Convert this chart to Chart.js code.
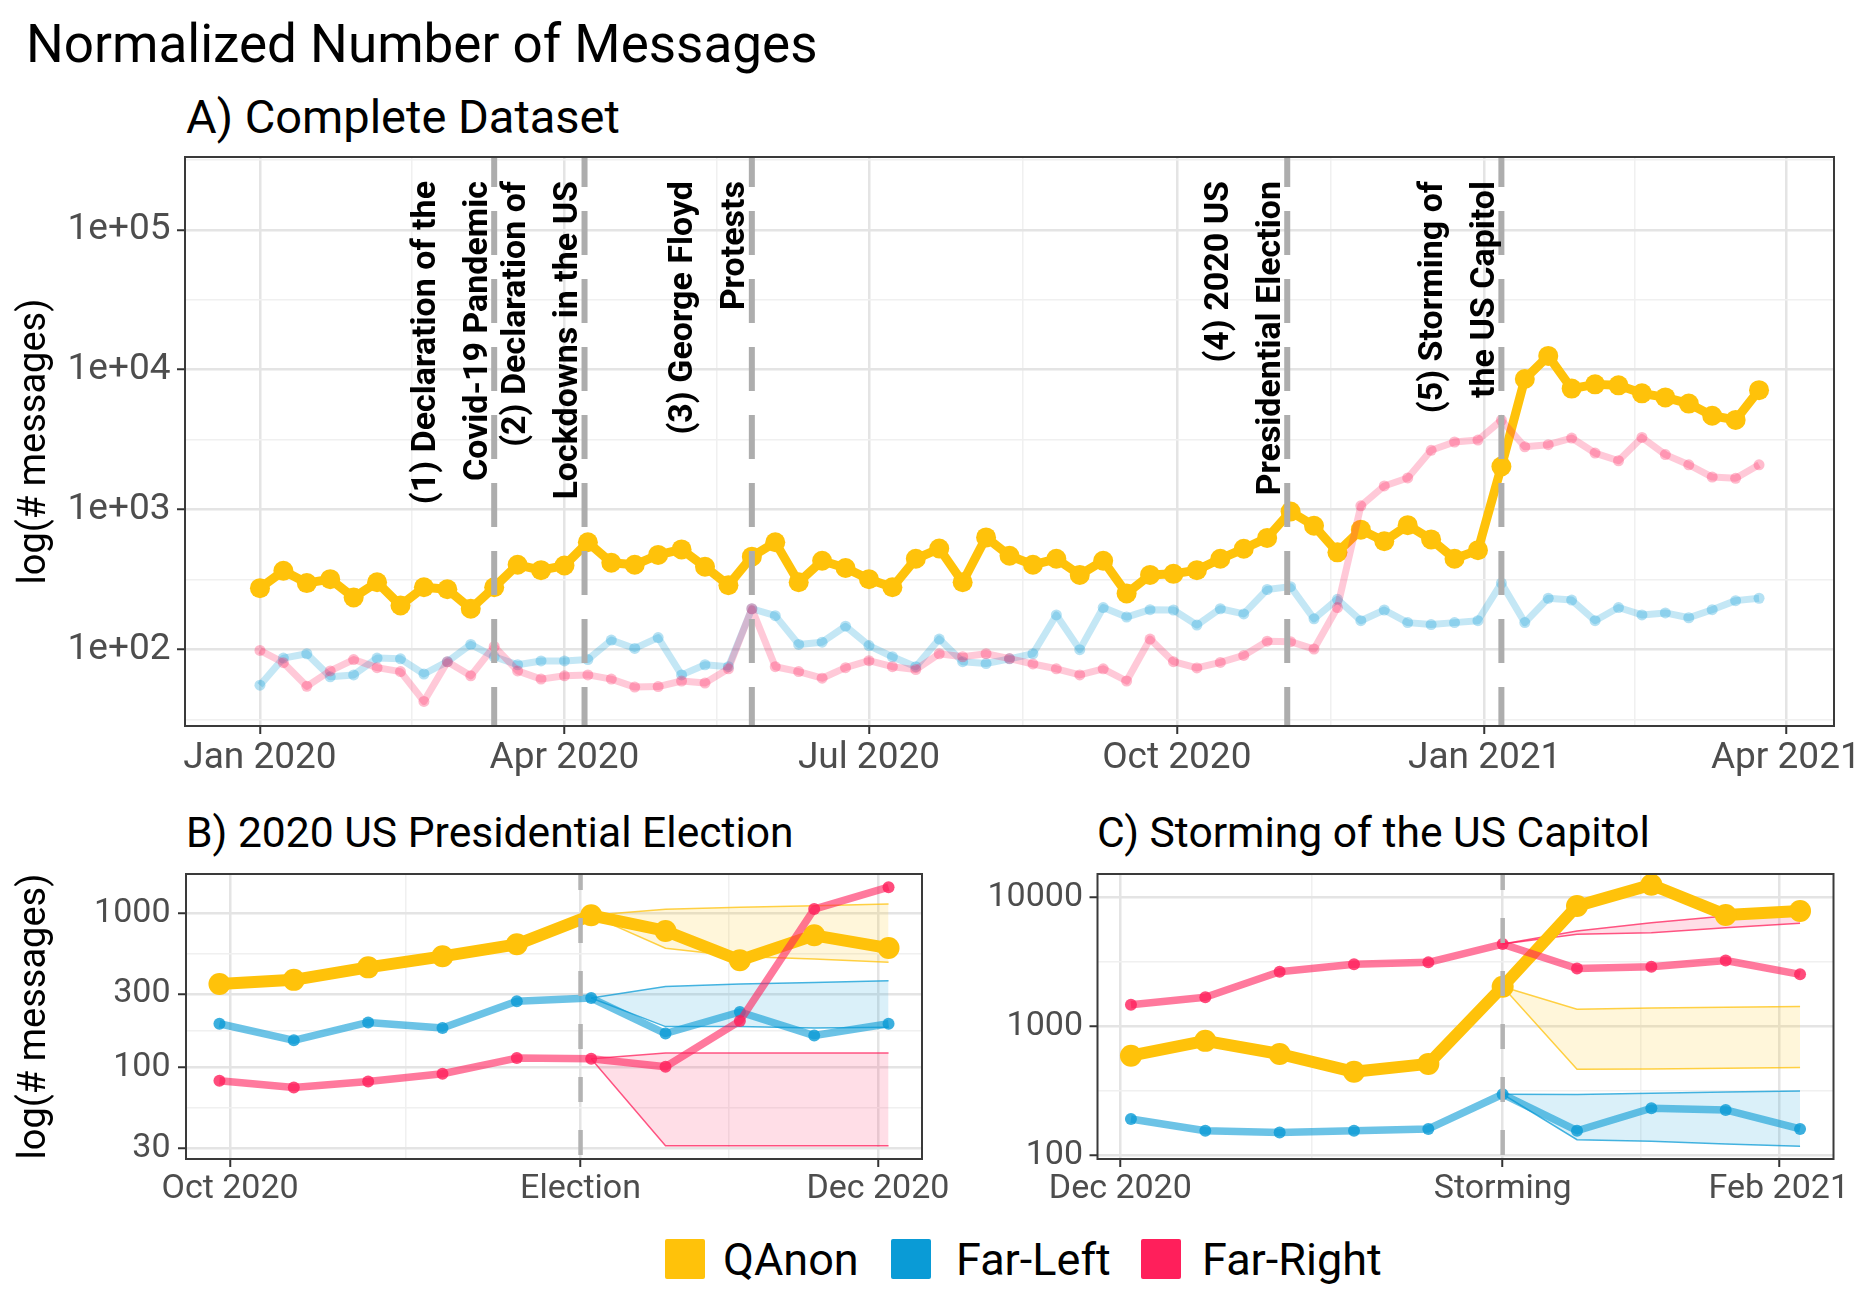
<!DOCTYPE html>
<html><head><meta charset="utf-8">
<script src="https://cdn.jsdelivr.net/npm/chart.js@4.4.1/dist/chart.umd.min.js"></script>
<style>
html,body{margin:0;padding:0;background:#fff;}
body{width:1870px;height:1289px;position:relative;overflow:hidden;font-family:Roboto,'Liberation Sans',sans-serif;}
.t{position:absolute;white-space:nowrap;color:#000;line-height:1;}
canvas{position:absolute;}
.sw{position:absolute;width:40px;height:40px;border-radius:2px;}
</style></head><body>
<div class="t" style="left:26px;top:18px;font-size:53px;">Normalized Number of Messages</div>
<div class="t" style="left:186px;top:93px;font-size:47px;">A) Complete Dataset</div>
<div class="t" style="left:186px;top:811px;font-size:42.6px;">B) 2020 US Presidential Election</div>
<div class="t" style="left:1097px;top:811px;font-size:42.6px;">C) Storming of the US Capitol</div>
<canvas id="cA" width="1870" height="660" style="left:0;top:140px;width:1870px;height:660px;"></canvas>
<canvas id="cB" width="960" height="420" style="left:0;top:800px;width:960px;height:420px;"></canvas>
<canvas id="cC" width="910" height="420" style="left:960px;top:800px;width:910px;height:420px;"></canvas>
<div class="sw" style="left:665px;top:1239px;background:#FFC20A;"></div>
<div class="t" style="left:723px;top:1237px;font-size:45px;">QAnon</div>
<div class="sw" style="left:891px;top:1239px;background:#0A9BD6;"></div>
<div class="t" style="left:956px;top:1237px;font-size:45px;">Far-Left</div>
<div class="sw" style="left:1141px;top:1239px;background:#FF1F5B;"></div>
<div class="t" style="left:1202px;top:1237px;font-size:45px;">Far-Right</div>
<script>
// ---------------- DATA ----------------
const weekDates = ['2020-01-01','2020-01-08','2020-01-15','2020-01-22','2020-01-29','2020-02-05','2020-02-12','2020-02-19','2020-02-26',
 '2020-03-04','2020-03-11','2020-03-18','2020-03-25','2020-04-01','2020-04-08','2020-04-15','2020-04-22','2020-04-29',
 '2020-05-06','2020-05-13','2020-05-20','2020-05-27','2020-06-03','2020-06-10','2020-06-17','2020-06-24',
 '2020-07-01','2020-07-08','2020-07-15','2020-07-22','2020-07-29','2020-08-05','2020-08-12','2020-08-19','2020-08-26',
 '2020-09-02','2020-09-09','2020-09-16','2020-09-23','2020-09-30','2020-10-07','2020-10-14','2020-10-21','2020-10-28',
 '2020-11-04','2020-11-11','2020-11-18','2020-11-25','2020-12-02','2020-12-09','2020-12-16','2020-12-23','2020-12-30',
 '2021-01-06','2021-01-13','2021-01-20','2021-01-27','2021-02-03','2021-02-10','2021-02-17','2021-02-24',
 '2021-03-03','2021-03-10','2021-03-17','2021-03-24'];
const qanon = [275,366,299,319,236,303,207,279,270,196,279,404,370,399,585,418,404,475,520,391,289,462,585,303,432,383,319,279,446,528,303,634,469,404,446,342,432,252,342,
 348,370,446,526,629,970,768,496,720,595,775,613,446,514,2037,8590,12550,7330,7860,7740,6780,6340,5730,4690,4380,7150];
const farLeft = [55.7,87,93.5,64,66,87,86,67,82,109,89,78,83,83,85,117,102,122,66,78,75.5,196,175,109,113,147,107,89,75.5,119,82,79.6,86,93.5,177,100,200,171,193,
 192,150,196,180,269,282,166,229,161,192,156,151,156,161,299,156,233,226,161,200,177,183,169,193,224,233];
const farRight = [98.7,80.7,54.7,70.5,85,74.4,69.7,42.7,81.8,65,105.5,70.5,61.6,65,66,61.6,54,54.5,59.7,57.7,73,196,75.5,69.7,62.5,74.4,83.4,75.5,72,93.5,89,93.5,86.3,79,73,66,73,59.7,119,
 82,74,81,91,115,114,101,200,1065,1478,1685,2657,3045,3143,4356,2815,2912,3250,2539,2237,3282,2475,2094,1710,1676,2094];

const eventDates = ['2020-03-11','2020-04-07','2020-05-27','2020-11-03','2021-01-06'];
const eventLabels = [
  ['(1) Declaration of the','Covid-19 Pandemic'],
  ['(2) Declaration of','Lockdowns in the US'],
  ['(3) George Floyd','Protests'],
  ['(4) 2020 US','Presidential Election'],
  ['(5) Storming of','the US Capitol']
];
const xTickDatesA = ['2020-01-01','2020-04-01','2020-07-01','2020-10-01','2021-01-01','2021-04-01'];
const xTickLabelsA = ['Jan 2020','Apr 2020','Jul 2020','Oct 2020','Jan 2021','Apr 2021'];
const yTickValuesA = [100,1000,10000,100000];
const yTickLabelsA = ['1e+02','1e+03','1e+04','1e+05'];

// Panel B
const datesB = ['2020-09-30','2020-10-07','2020-10-14','2020-10-21','2020-10-28','2020-11-04','2020-11-11','2020-11-18','2020-11-25','2020-12-02'];
const qanonB = [348,370,446,526,629,970,768,496,720,595];
const farLeftB = [192,150,196,180,269,282,166,229,161,192];
const farRightB = [82,74,81,91,115,114,101,200,1065,1478];
const bandDatesB = ['2020-11-04','2020-11-11','2020-11-18','2020-11-25','2020-12-02'];
const qanonHiB = [970,1062,1094,1120,1148];
const qanonLoB = [970,593,524,505,482];
const farLeftHiB = [282,335,348,356,365];
const farLeftLoB = [282,184,184,180,182];
const farRightHiB = [114,124,124,124,124];
const farRightLoB = [114,31,31,31,31];
const eventDateB = '2020-11-03';
const xTickDatesB = ['2020-10-01','2020-11-03','2020-12-01'];
const xTickLabelsB = ['Oct 2020','Election','Dec 2020'];
const yTickValuesB = [30,100,300,1000];
const yTickLabelsB = ['30','100','300','1000'];

// Panel C
const datesC = ['2020-12-02','2020-12-09','2020-12-16','2020-12-23','2020-12-30','2021-01-06','2021-01-13','2021-01-20','2021-01-27','2021-02-03'];
const qanonC = [595,775,613,446,514,2037,8590,12550,7330,7860];
const farLeftC = [192,156,151,156,161,299,156,233,226,161];
const farRightC = [1478,1685,2657,3045,3143,4356,2815,2912,3250,2539];
const bandDatesC = ['2021-01-06','2021-01-13','2021-01-20','2021-01-27','2021-02-03'];
const qanonHiC = [2037,1365,1390,1410,1432];
const qanonLoC = [2037,466,470,475,482];
const farLeftHiC = [299,298,305,311,317];
const farLeftLoC = [299,133,129,123,118];
const farRightHiC = [4356,5500,6380,7200,8360];
const farRightLoC = [4356,5180,5330,5840,6310];
const eventDateC = '2021-01-06';
const xTickDatesC = ['2020-12-01','2021-01-06','2021-02-01'];
const xTickLabelsC = ['Dec 2020','Storming','Feb 2021'];
const yTickValuesC = [100,1000,10000];
const yTickLabelsC = ['100','1000','10000'];

// ---------------- HELPERS ----------------
const day = s => (Date.UTC(+s.slice(0,4), +s.slice(5,7)-1, +s.slice(8,10)) - Date.UTC(2020,0,1)) / 864e5;
const pts = (dates, vals) => dates.map((d,i) => ({x: day(d), y: vals[i]}));
const COL = {q:'255,194,10', l:'10,155,214', r:'255,31,91'};
const rgba = (c,a) => 'rgba(' + c + ',' + a + ')';

Chart.defaults.font.family = 'Roboto, "Liberation Sans", sans-serif';

function minorLin(majors){ const m=[]; for(let i=0;i<majors.length-1;i++) m.push((majors[i]+majors[i+1])/2); return m; }
function minorLog(majors){ const m=[]; for(let i=0;i<majors.length-1;i++) m.push(Math.sqrt(majors[i]*majors[i+1]));
  const r = majors[1]/majors[0]; m.unshift(Math.sqrt(majors[0]*majors[0]/r)); m.push(Math.sqrt(majors[majors.length-1]*majors[majors.length-1]*r)); return m; }

function gridOpts(){
  return {
    color: c => c.tick && c.tick.minor ? '#F0F0F0' : '#E4E4E4',
    lineWidth: c => c.tick && c.tick.minor ? 1.5 : 2.5,
    tickLength: 8,
    tickWidth: 2,
    tickColor: c => c.tick && c.tick.minor ? 'rgba(0,0,0,0)' : '#333333'
  };
}

function xScale(min, max, tickDates, tickLabels, fontSize, pad, height){
  const majors = tickDates.map(day);
  const labelFor = v => { const i = majors.findIndex(m => Math.abs(m-v) < 1e-6); return i >= 0 ? tickLabels[i] : ''; };
  return {
    type: 'linear', min, max, bounds: 'data',
    afterBuildTicks: s => {
      const t = majors.map(v => ({value: v})).concat(minorLin(majors).filter(v => v > min && v < max).map(v => ({value: v, minor: true})));
      t.sort((a,b) => a.value - b.value);
      s.ticks = t;
    },
    afterFit: s => { s.height = height; },
    ticks: { autoSkip: false, maxRotation: 0, minRotation: 0, padding: pad, color: '#4D4D4D',
      font: {size: fontSize, lineHeight: 1}, callback: v => labelFor(v) },
    grid: gridOpts(),
    border: {display: false}
  };
}

function yScale(min, max, tickVals, tickLabels, fontSize, pad, width, title){
  const labelFor = v => { const i = tickVals.findIndex(m => Math.abs(m-v)/m < 1e-6); return i >= 0 ? tickLabels[i] : ''; };
  return {
    type: 'logarithmic', min, max, bounds: 'data',
    afterBuildTicks: s => {
      const t = tickVals.map(v => ({value: v})).concat(minorLog(tickVals).filter(v => v > min && v < max).map(v => ({value: v, minor: true})));
      t.sort((a,b) => a.value - b.value);
      s.ticks = t;
    },
    afterFit: s => { s.width = width; },
    ticks: { autoSkip: false, padding: pad, color: '#4D4D4D',
      font: c => ({size: fontSize, lineHeight: (c.tick && c.tick.minor) ? 0.01 : 1.2}),
      callback: v => labelFor(v) },
    grid: gridOpts(),
    border: {display: false},
    title: title ? {display: true, text: title, color: '#000', font: {size: 38}, padding: {top: 13, bottom: 0}} : {display: false}
  };
}

function panelPlugin(o){
  return {
    id: 'panel' + o.name,
    afterDatasetsDraw(chart){
      const {ctx, chartArea: a, scales: {x}} = chart;
      ctx.save();
      ctx.beginPath(); ctx.rect(a.left, a.top, a.right-a.left, a.bottom-a.top); ctx.clip();
      o.vlines.forEach(d => {
        const px = x.getPixelForValue(day(d));
        ctx.beginPath();
        ctx.setLineDash(o.dash); ctx.lineDashOffset = o.dashOffset;
        ctx.strokeStyle = o.vColor; ctx.lineWidth = o.vWidth; ctx.lineCap = 'butt';
        ctx.moveTo(px, a.top); ctx.lineTo(px, a.bottom); ctx.stroke();
      });
      ctx.setLineDash([]);
      if (o.notes){
        ctx.fillStyle = '#000';
        ctx.font = 'bold 34px Roboto, "Liberation Sans", sans-serif';
        ctx.textAlign = 'right'; ctx.textBaseline = 'middle';
        o.vlines.forEach((d, k) => {
          const px = x.getPixelForValue(day(d));
          o.notes[k].forEach((line, j) => {
            ctx.save();
            ctx.translate(px + o.noteOffsets[j], a.top + 24);
            ctx.rotate(-Math.PI/2);
            ctx.fillText(line, 0, 0);
            ctx.restore();
          });
        });
      }
      ctx.restore();
      ctx.save();
      ctx.strokeStyle = '#3a3a3a'; ctx.lineWidth = 2;
      ctx.strokeRect(a.left, a.top, a.right-a.left, a.bottom-a.top);
      ctx.restore();
    }
  };
}

function lineDs(data, c, w, r, lineA, ptA, order){
  return { data, order, borderColor: rgba(c, lineA), backgroundColor: rgba(c, ptA), borderWidth: w,
    pointRadius: r, pointBackgroundColor: rgba(c, ptA), pointBorderWidth: 0, pointHoverRadius: r,
    borderJoinStyle: 'round', borderCapStyle: 'butt', tension: 0, fill: false };
}
function bandDs(dates, hi, lo, c, order){
  return [
    { data: pts(dates, hi), order, borderColor: rgba(c, 0.75), borderWidth: 1.5, pointRadius: 0, fill: '+1', backgroundColor: rgba(c, 0.15), tension: 0 },
    { data: pts(dates, lo), order, borderColor: rgba(c, 0.75), borderWidth: 1.5, pointRadius: 0, fill: false, tension: 0 }
  ];
}
const common = { responsive: false, animation: false, events: [], devicePixelRatio: 1,
  plugins: { legend: {display: false}, tooltip: {enabled: false} } };

// ---------------- PANEL A ----------------
new Chart(document.getElementById('cA'), {
  type: 'line',
  data: { datasets: [
    lineDs(pts(weekDates, qanon), COL.q, 9, 10, 1, 1, 3),
    lineDs(pts(weekDates, farLeft), COL.l, 7, 5.5, 0.24, 0.3, 2),
    lineDs(pts(weekDates, farRight), COL.r, 7, 5.5, 0.24, 0.3, 1)
  ]},
  options: Object.assign({}, common, {
    layout: { padding: {top: 17, right: 36, left: 0, bottom: 0} },
    scales: {
      x: xScale(-22.4, 470.4, xTickDatesA, xTickLabelsA, 37, 6, 74),
      y: yScale(Math.pow(10,1.4545), Math.pow(10,5.52), yTickValuesA, yTickLabelsA, 37, 6.5, 185, 'log(# messages)')
    }
  }),
  plugins: [panelPlugin({name:'A', vlines: eventDates, dash: [44,24], dashOffset: 14, vColor: '#ADADAD', vWidth: 6,
    notes: eventLabels, noteOffsets: [-68, -16]})]
});

// ---------------- PANEL B ----------------
new Chart(document.getElementById('cB'), {
  type: 'line',
  data: { datasets: [
    lineDs(pts(datesB, qanonB), COL.q, 12, 11, 1, 1, 3),
    lineDs(pts(datesB, farLeftB), COL.l, 7.5, 6, 0.6, 0.8, 2),
    lineDs(pts(datesB, farRightB), COL.r, 7.5, 6, 0.6, 0.8, 1),
    ...bandDs(bandDatesB, qanonHiB, qanonLoB, COL.q, 6),
    ...bandDs(bandDatesB, farLeftHiB, farLeftLoB, COL.l, 5),
    ...bandDs(bandDatesB, farRightHiB, farRightLoB, COL.r, 4)
  ]},
  options: Object.assign({}, common, {
    layout: { padding: {top: 74, right: 38, left: 0, bottom: 0} },
    scales: {
      x: xScale(269.85, 339.15, xTickDatesB, xTickLabelsB, 34, 5.5, 61),
      y: yScale(Math.pow(10,1.406), Math.pow(10,3.255), yTickValuesB, yTickLabelsB, 34, 7.5, 186, 'log(# messages)')
    }
  }),
  plugins: [panelPlugin({name:'B', vlines: [eventDateB], dash: [25,28], dashOffset: 9, vColor: '#B3B3B3', vWidth: 4.5})]
});

// ---------------- PANEL C ----------------
new Chart(document.getElementById('cC'), {
  type: 'line',
  data: { datasets: [
    lineDs(pts(datesC, qanonC), COL.q, 12, 11, 1, 1, 3),
    lineDs(pts(datesC, farLeftC), COL.l, 7.5, 6, 0.6, 0.8, 2),
    lineDs(pts(datesC, farRightC), COL.r, 7.5, 6, 0.6, 0.8, 1),
    ...bandDs(bandDatesC, qanonHiC, qanonLoC, COL.q, 6),
    ...bandDs(bandDatesC, farLeftHiC, farLeftLoC, COL.l, 5),
    ...bandDs(bandDatesC, farRightHiC, farRightLoC, COL.r, 4)
  ]},
  options: Object.assign({}, common, {
    layout: { padding: {top: 74, right: 36.5, left: 0, bottom: 0} },
    scales: {
      x: xScale(332.85, 402.15, xTickDatesC, xTickLabelsC, 34, 5.5, 61),
      y: yScale(Math.pow(10,1.974), Math.pow(10,4.182), yTickValuesC, yTickLabelsC, 34, 6.5, 137.5, null)
    }
  }),
  plugins: [panelPlugin({name:'C', vlines: [eventDateC], dash: [25,28], dashOffset: 9, vColor: '#B3B3B3', vWidth: 4.5})]
});
</script>
</body></html>
